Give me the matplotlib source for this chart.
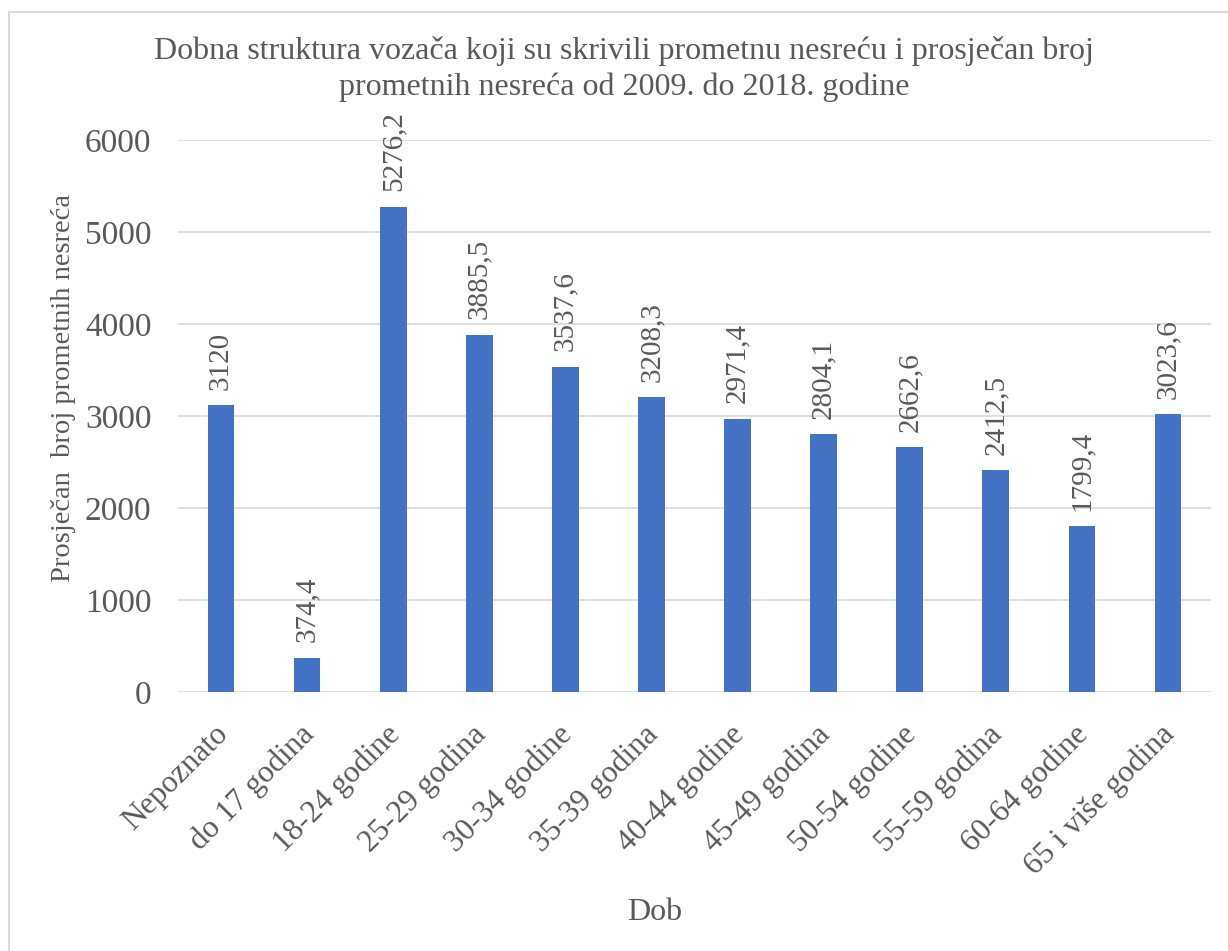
import matplotlib
matplotlib.use("Agg")
import matplotlib.pyplot as plt
import matplotlib.transforms as mtransforms
from matplotlib.patches import Rectangle

categories = ["Nepoznato", "do 17 godina", "18-24 godine", "25-29 godina", "30-34 godine",
              "35-39 godina", "40-44 godine", "45-49 godina", "50-54 godine", "55-59 godina",
              "60-64 godine", "65 i više godina"]
values = [3120, 374.4, 5276.2, 3885.5, 3537.6, 3208.3, 2971.4, 2804.1, 2662.6, 2412.5, 1799.4, 3023.6]
labels = ["3120", "374,4", "5276,2", "3885,5", "3537,6", "3208,3", "2971,4", "2804,1",
          "2662,6", "2412,5", "1799,4", "3023,6"]
yticks = [0, 1000, 2000, 3000, 4000, 5000, 6000]

plt.rcParams['font.family'] = ['Liberation Serif', 'DejaVu Serif']
TXT = '#595959'

W, H = 1228, 951
fig = plt.figure(figsize=(W/100, H/100), dpi=100)
fig.patches.append(Rectangle((8.5/W, -0.1), 1.2, (1 - 11.5/H) + 0.1, transform=fig.transFigure,
                             fill=False, edgecolor='#d9d9d9', linewidth=1.5))

ax = fig.add_axes([178/W, 1-692/H, (1211-178)/W, (692-140)/H])
x = list(range(len(categories)))
ax.bar(x, values, width=0.31, color='#4472C4', zorder=3)
ax.set_xlim(-0.5, len(categories)-0.5)
ax.set_ylim(0, 6000)
ax.set_yticks(yticks)
ax.set_yticklabels([str(t) for t in yticks], fontsize=24, color=TXT)
ax.yaxis.grid(True, color='#d9d9d9', linewidth=1.2, zorder=0)
ax.set_axisbelow(True)
for s in ['top', 'right', 'left', 'bottom']:
    ax.spines[s].set_visible(False)
ax.tick_params(axis='both', length=0)
ax.tick_params(axis='y', pad=19)
ax.set_xticks(x)
ax.set_xticklabels(categories, rotation=45, ha='right', rotation_mode='anchor',
                   fontsize=22.5, color=TXT)
ax.tick_params(axis='x', pad=20)
shift = mtransforms.ScaledTranslation(-8/100, 0, fig.dpi_scale_trans)
for lbl in ax.get_xticklabels():
    lbl.set_transform(lbl.get_transform() + shift)

for xi, v, lab in zip(x, values, labels):
    ax.annotate(lab, (xi, v), xytext=(0, 11), textcoords='offset points',
                rotation=90, ha='center', va='bottom', fontsize=21, color=TXT,
                annotation_clip=False)

fig.text(64/W, 1-388/H, "Prosječan  broj prometnih nesreća", fontsize=20.5, color=TXT,
         rotation=90, ha='center', va='center')
fig.text(655/W, 1-913/H, "Dob", fontsize=23, color=TXT, ha='center', va='center')
fig.text(624/W, 1-69/H, "Dobna struktura vozača koji su skrivili prometnu nesreću i prosječan broj\nprometnih nesreća od 2009. do 2018. godine",
         fontsize=23, color=TXT, ha='center', va='center', linespacing=1.32)

fig.savefig("out.png", dpi=100)
